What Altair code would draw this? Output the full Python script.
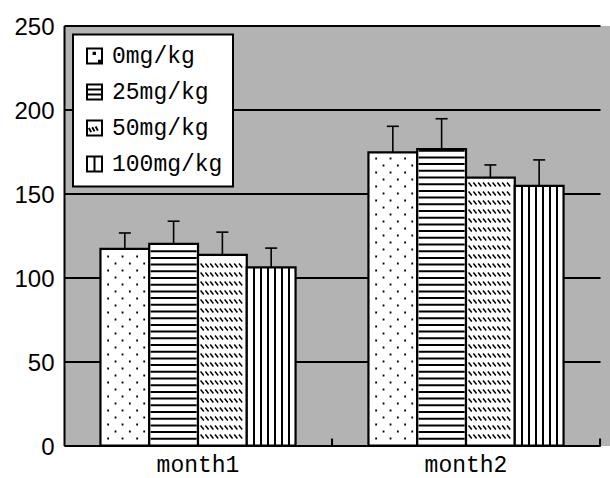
import altair as alt
import pandas as pd
import numpy as np

# ---------------- data ----------------
months = ["month1", "month2"]
groups = ["0mg/kg", "25mg/kg", "50mg/kg", "100mg/kg"]
values_month1 = [117, 120, 113.5, 106]
values_month2 = [174.5, 176.5, 159.5, 154.5]
errors_month1 = [9.5, 13.5, 13.5, 11.5]
errors_month2 = [15.5, 18, 7.5, 15.5]
y_ticks = [0, 50, 100, 150, 200, 250]

rows = []
for m, vals, errs in [(months[0], values_month1, errors_month1),
                      (months[1], values_month2, errors_month2)]:
    for g, v, e in zip(groups, vals, errs):
        rows.append({"month": m, "group": g, "value": v, "upper": v + e})
df = pd.DataFrame(rows)

# ---------------- fill patterns (decoration derived from the bar values) ----------------
PX = 250 / 420.0  # data units per pixel
R = 22.0          # half-width (px) of the unit square of a custom symbol path
SYM_SIZE = (2 * R) ** 2


def pattern_rows(group, spacing_px, top_margin_px):
    out = []
    sub = df[df.group == group]
    for _, r in sub.iterrows():
        k = 1
        while k * spacing_px * PX < r.value - top_margin_px * PX:
            out.append({"month": r.month, "group": group,
                        "level": k * spacing_px * PX,
                        "parity": "a" if k % 2 else "b"})
            k += 1
    return pd.DataFrame(out)


def u(px):
    return round(px / R, 4)


def dot_path(xs, d=1.8):
    return " ".join(f"M{u(x - d / 2)},{u(-d / 2)}h{u(d)}v{u(d)}h{u(-d)}Z" for x in xs)


def diag_path(xs, w=3.2, h=4.0):
    return " ".join(f"M{u(x - w / 2)},{u(-h / 2)}L{u(x + w / 2)},{u(h / 2)}" for x in xs)


hlines = pattern_rows("25mg/kg", 6.7, 1.5)
dots = pattern_rows("0mg/kg", 7.0, 3)
diags = pattern_rows("50mg/kg", 9.0, 4)

dots_a = dot_path([-16.7, -2.3, 12.3])
dots_b = dot_path([-9.3, 5.0, 19.4])
diag_row = diag_path([-20.2 + 4.8 * k for k in range(9)])

stops = [{"offset": 0, "color": "white"}]
for k in range(1, 7):
    c = k / 7
    stops += [{"offset": c - 0.022, "color": "white"},
              {"offset": c - 0.022, "color": "black"},
              {"offset": c + 0.022, "color": "black"},
              {"offset": c + 0.022, "color": "white"}]
stops.append({"offset": 1, "color": "white"})
vstripes = {"gradient": "linear", "x1": 0, "y1": 0, "x2": 1, "y2": 0, "stops": stops}

legend_paths = [
    "M-1,-1H1V1H-1Z M-0.12,-0.45h0.18v0.18h-0.18Z M0.6,0.62h0.2v0.2h-0.2Z",
    "M-1,-1H1V1H-1Z M-1,-0.33H1 M-1,0.33H1",
    "M-1,-1H1V1H-1Z M-0.75,0.0L-0.45,0.55 M-0.3,-0.1L0.0,0.45 M0.15,-0.2L0.45,0.35",
    "M-1,-1H1V1H-1Z M0,-1V1",
]

# ---------------- encodings ----------------
x_scale = alt.Scale(domain=months, range=[0, 536], paddingInner=0.272, paddingOuter=0.136)
x_axis = alt.Axis(title=None, labelFont="Liberation Mono", labelFontSize=23, labelColor="black",
                  labelAngle=0, labelPadding=8, ticks=False, domainColor="black",
                  domainWidth=2, grid=False)
y_scale = alt.Scale(domain=[0, 250], nice=False)
y_axis = alt.Axis(title=None, values=y_ticks, labelFont="Liberation Sans", labelFontSize=24,
                  labelColor="black", labelPadding=10, ticks=False, domainColor="black",
                  domainWidth=2, grid=True, gridColor="black", gridWidth=1.8, gridOpacity=1,
                  labelOffset=2)


def X(**kw):
    return alt.X("month:N", scale=x_scale, axis=x_axis, **kw)


def XO():
    return alt.XOffset("group:N", scale=alt.Scale(domain=groups), sort=groups)


def Y(field):
    return alt.Y(f"{field}:Q", scale=y_scale, axis=y_axis)


base = alt.Chart(df)

legend_layer = base.mark_point(filled=False, fill="white", stroke="black", strokeWidth=2,
                               size=225, yOffset=60, opacity=1).encode(
    x=X(), xOffset=XO(), y=Y("value"),
    shape=alt.Shape("group:N", sort=groups,
                    scale=alt.Scale(domain=groups, range=legend_paths),
                    legend=alt.Legend(title=None, orient="top-left", offset=9, padding=10,
                                      fillColor="white", strokeColor="black",
                                      labelFont="Liberation Mono", labelFontSize=23,
                                      labelColor="black", symbolSize=225,
                                      symbolStrokeWidth=2, rowPadding=12, labelOffset=6)),
)

bars = base.mark_bar(stroke="black", strokeWidth=2.2).encode(
    x=X(), xOffset=XO(), y=Y("value"),
    fill=alt.condition(alt.datum.group == "100mg/kg", alt.value(vstripes), alt.value("white")),
)

hline_layer = alt.Chart(hlines).mark_tick(color="black", thickness=2, size=46, opacity=1).encode(
    x=X(), xOffset=XO(), y=Y("level"))

dot_layer_a = alt.Chart(dots).transform_filter(alt.datum.parity == "a").mark_point(
    shape=dots_a, size=SYM_SIZE, filled=True, color="black", opacity=1).encode(
    x=X(), xOffset=XO(), y=Y("level"))

dot_layer_b = alt.Chart(dots).transform_filter(alt.datum.parity == "b").mark_point(
    shape=dots_b, size=SYM_SIZE, filled=True, color="black", opacity=1).encode(
    x=X(), xOffset=XO(), y=Y("level"))

diag_layer = alt.Chart(diags).mark_point(
    shape=diag_row, size=SYM_SIZE, filled=False, stroke="black", strokeWidth=1.5,
    opacity=1).encode(
    x=X(), xOffset=XO(), y=Y("level"))

err_rule = base.mark_rule(color="black", strokeWidth=1.6).encode(
    x=X(), xOffset=XO(), y=Y("value"), y2="upper:Q")

err_cap = base.mark_tick(color="black", thickness=1.6, size=12, opacity=1).encode(
    x=X(), xOffset=XO(), y=Y("upper"))

bound_ticks = alt.Chart(pd.DataFrame({"month": months})).mark_rule(
    color="black", strokeWidth=2, y2Offset=-7, xOffset=36.5).encode(
    x=X(bandPosition=1), y=alt.datum(0, scale=y_scale, axis=y_axis), y2=alt.datum(0))

chart = alt.layer(
    legend_layer, err_rule, err_cap, bars, hline_layer, dot_layer_a, dot_layer_b,
    diag_layer, bound_ticks
).properties(
    width=546, height=420,
    autosize=alt.AutoSizeParams(type="none"),
    padding={"left": 64, "top": 25.5, "right": 0, "bottom": 32.5},
    background="white",
).configure_view(
    fill="#b3b3b3", stroke="transparent"
).configure_legend(
    strokeWidth=2
)

chart.save("out.html", embed_options={"renderer": "svg", "actions": False})
